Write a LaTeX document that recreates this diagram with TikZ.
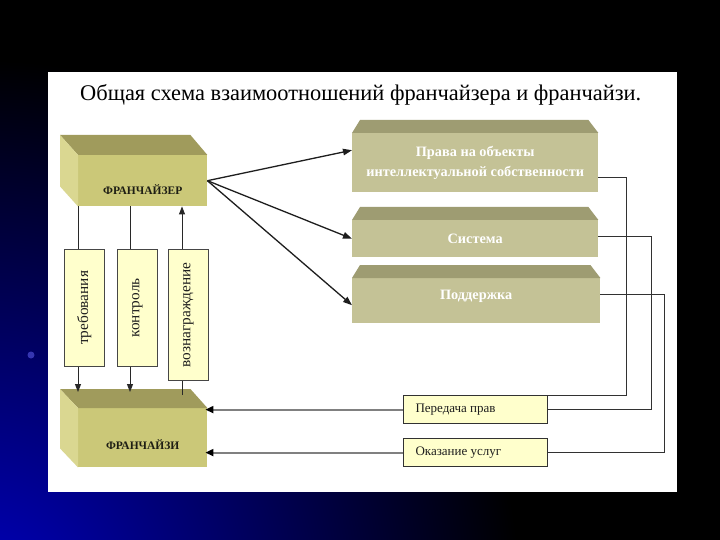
\documentclass[tikz,border=0pt]{standalone}
\usepackage{fontspec}
\setmainfont{Liberation Serif}
\usetikzlibrary{arrows.meta,calc}
\definecolor{frfront}{RGB}{203,200,120}
\definecolor{frtop}{RGB}{160,155,92}
\definecolor{frside}{RGB}{218,215,145}
\definecolor{rfront}{RGB}{196,194,150}
\definecolor{rtop}{RGB}{158,156,114}
\definecolor{pale}{RGB}{255,255,204}
\definecolor{slideblue}{RGB}{0,0,190}
\tikzset{
  face/.style={draw=none},
  frbox/.style={face, fill=frfront, minimum width=129pt, anchor=north west, inner sep=0pt},
  rbox/.style={face, fill=rfront, minimum width=246pt, anchor=north west, inner sep=0pt},
  pillar/.style={draw={rgb,255:red,70;green,70;blue,70}, line width=0.8pt, fill=pale, minimum width=40pt, anchor=north west, inner sep=0pt},
  smallbox/.style={draw={rgb,255:red,50;green,50;blue,50}, line width=1.2pt, fill=pale, minimum width=144pt, minimum height=28pt, anchor=north west, inner sep=0pt},
  frlbl/.style={font=\fontsize{11.5}{13}\selectfont\bfseries, text={rgb,255:red,30;green,30;blue,20}},
  rlbl/.style={font=\fontsize{14.3}{20}\selectfont\bfseries, text=white, align=center},
  plbl/.style={font=\fontsize{15.3}{17}\selectfont, rotate=90, text={rgb,255:red,30;green,30;blue,30}},
  slbl/.style={font=\fontsize{13}{15}\selectfont, text={rgb,255:red,30;green,30;blue,30}, anchor=west},
  conn/.style={draw={rgb,255:red,40;green,40;blue,40}, line width=1pt},
  carr/.style={conn, -{Triangle[length=8pt,width=6pt]}},
  barr/.style={draw={rgb,255:red,30;green,30;blue,30}, line width=1.3pt, -{Triangle[length=9pt,width=6.5pt]}},
  rline/.style={draw={rgb,255:red,50;green,50;blue,50}, line width=0.9pt},
  garr/.style={draw={rgb,255:red,128;green,128;blue,128}, line width=1.8pt, -{Triangle[length=8pt,width=7pt,color=black]}, shorten >=-2pt},
}
\begin{document}
\begin{tikzpicture}[x=1pt,y=-1pt]
\useasboundingbox (0,0) rectangle (720,540);
% slide background
\fill[black] (0,0) rectangle (720,540);
\begin{scope}
  \clip (0,0) rectangle (720,540);
  \shade[inner color=slideblue, outer color=black] (-20,600) circle (540);
\end{scope}
\fill[slideblue!70!white, opacity=0.7] (31,355) circle (3.5);
\fill[white] (48,72) rectangle (677,492);

% title
\node[font=\fontsize{22.4}{24}\selectfont, anchor=west, inner sep=0pt] (title) at (80,95) {Общая схема взаимоотношений франчайзера и франчайзи.};

% franchisor box
\node[frbox, minimum height=51pt] (frA) at (78,155) {};
\fill[frtop] (frA.north west) -- ++(-18,-20) -- ($(frA.north east)+(-17,-20)$) -- (frA.north east) -- cycle;
\fill[frside] (frA.north west) -- ++(-18,-20) -- ($(frA.south west)+(-18,-20)$) -- (frA.south west) -- cycle;
\node[frlbl] (frAt) at ($(frA.center)+(0,9)$) {ФРАНЧАЙЗЕР};

% franchisee box
\node[frbox, minimum height=59pt] (frE) at (78,408) {};
\fill[frtop] (frE.north west) -- ++(-18,-19) -- ($(frE.north east)+(-17,-19)$) -- (frE.north east) -- cycle;
\fill[frside] (frE.north west) -- ++(-18,-19) -- ($(frE.south west)+(-18,-19)$) -- (frE.south west) -- cycle;
\node[frlbl] (frEt) at ($(frE.center)+(0,7)$) {ФРАНЧАЙЗИ};

% right boxes
\node[rbox, minimum height=59pt] (r1) at (352,133) {};
\fill[rtop] (r1.north west) -- ++(8,-13) -- ($(r1.north east)+(-10,-13)$) -- (r1.north east) -- cycle;
\node[rlbl] (r1t) at ($(r1.center)+(0,0)$) {Права на объекты\\интеллектуальной собственности};

\node[rbox, minimum height=37pt] (r2) at (352,220) {};
\fill[rtop] (r2.north west) -- ++(8,-13) -- ($(r2.north east)+(-10,-13)$) -- (r2.north east) -- cycle;
\node[rlbl] (r2t) at (r2.center) {Система};

\node[rbox, minimum height=45pt, minimum width=248pt] (r3) at (352,278) {};
\fill[rtop] (r3.north west) -- ++(8,-13) -- ($(r3.north east)+(-10,-13)$) -- (r3.north east) -- cycle;
\node[rlbl] (r3t) at ($(r3.center)+(0,-4)$) {Поддержка};

% pillars
\node[pillar, minimum height=117pt] (p1) at (64,249) {};
\node[plbl] (p1t) at (p1.center) {требования};
\node[pillar, minimum height=117pt] (p2) at (117,249) {};
\node[plbl] (p2t) at (p2.center) {контроль};
\node[pillar, minimum height=131pt] (p3) at (168,249) {};
\node[plbl] (p3t) at (p3.center) {вознаграждение};

% small boxes
\node[smallbox] (t1) at (403,395) {};
\node[slbl] (t1t) at ($(t1.west)+(9,0)$) {Передача прав};
\node[smallbox] (t2) at (403,438) {};
\node[slbl] (t2t) at ($(t2.west)+(9,0)$) {Оказание услуг};

% helper columns
\coordinate (c1) at (78,0);
\coordinate (c2) at (130,0);
\coordinate (c3) at (182,0);
\coordinate (frEin) at (0,392);
\coordinate (frEout) at (0,395);
\coordinate (v1) at (626,0);
\coordinate (v2) at (651,0);
\coordinate (v3) at (664,0);

% vertical connectors
\draw[conn] (frA.south -| c1) -- (p1.north -| c1);
\draw[carr] (p1.south -| c1) -- (frEin -| c1);
\draw[conn] (frA.south -| c2) -- (p2.north -| c2);
\draw[carr] (p2.south -| c2) -- (frEin -| c2);
\draw[conn] (frEout -| c3) -- (p3.south -| c3);
\draw[carr] (p3.north -| c3) -- (frA.south -| c3);

% franchisor to right boxes
\draw[barr] (frA.east) -- ([yshift=12.5pt]r1.west);
\draw[barr] (frA.east) -- (r2.west);
\draw[barr] (frA.east) -- ([yshift=-4.5pt]r3.west);

% right connectors
\draw[rline] ([yshift=-14.5pt]r1.east) -| (v1 |- t1.north east) -- (t1.north east);
\draw[rline] ([yshift=2pt]r2.east) -| (v2 |- t1.east) -- (t1.east);
\draw[rline] ([yshift=6.5pt]r3.east) -| (v3 |- t2.east) -- (t2.east);

% bottom arrows
\draw[garr] (t1.west) -- (frE.east |- t1.west);
\draw[garr] (t2.west) -- (frE.east |- t2.west);
\end{tikzpicture}
\end{document}
